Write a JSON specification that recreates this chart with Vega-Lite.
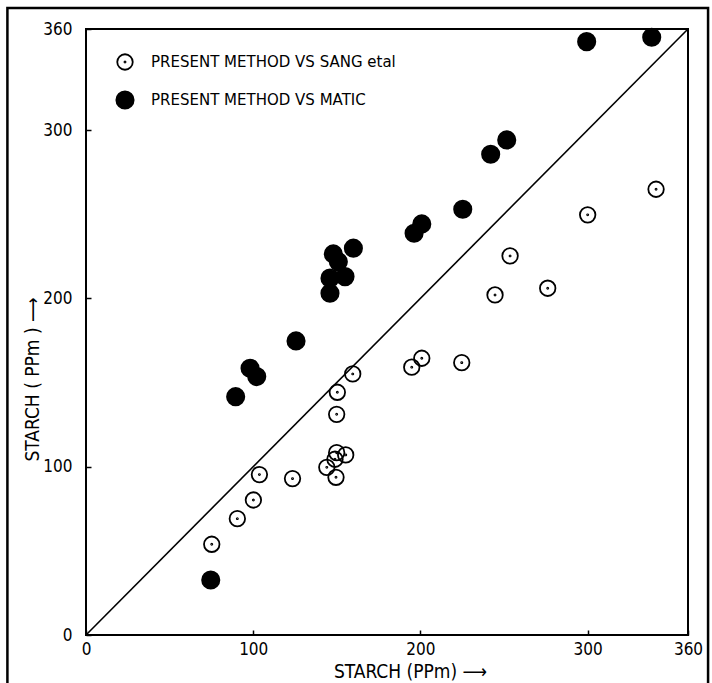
{
  "$schema": "https://vega.github.io/schema/vega-lite/v6.json",
  "width": 602,
  "height": 606,
  "autosize": {"type": "none"},
  "padding": {"left": 86, "top": 29, "right": 24, "bottom": 48},
  "background": "white",
  "config": {
    "view": {"stroke": "black", "strokeWidth": 2},
    "font": "DejaVu Sans Condensed",
    "axis": {
      "grid": false,
      "domain": false,
      "ticks": true,
      "tickSize": -5,
      "tickWidth": 1.5,
      "tickColor": "black",
      "labelColor": "black",
      "labelFont": "DejaVu Sans Condensed",
      "labelFontSize": 17,
      "labelFlush": false,
      "labelOverlap": false,
      "titleColor": "black",
      "titleFont": "DejaVu Sans Condensed",
      "titleFontSize": 19,
      "titleFontWeight": "normal"
    }
  },
  "layer": [
    {
      "data": {"values": [{"frame": "page"}]},
      "mark": {"type": "rect", "filled": false, "stroke": "black", "strokeWidth": 2.5, "clip": false},
      "encoding": {
        "x": {"datum": -47, "type": "quantitative"},
        "x2": {"datum": 372},
        "y": {"datum": 372.5, "type": "quantitative"},
        "y2": {"datum": -32}
      }
    },
    {
      "data": {"values": [{"x": 0, "y": 0}, {"x": 360, "y": 360}]},
      "mark": {"type": "line", "color": "black", "strokeWidth": 1.6},
      "encoding": {
        "x": {"field": "x", "type": "quantitative"},
        "y": {"field": "y", "type": "quantitative"}
      }
    },
    {
      "data": {"values": [
        {"series": "PRESENT METHOD VS SANG etal", "x": 75.2, "y": 53.9},
        {"series": "PRESENT METHOD VS SANG etal", "x": 90.5, "y": 69.1},
        {"series": "PRESENT METHOD VS SANG etal", "x": 100.1, "y": 80.2},
        {"series": "PRESENT METHOD VS SANG etal", "x": 103.7, "y": 95.3},
        {"series": "PRESENT METHOD VS SANG etal", "x": 123.5, "y": 92.9},
        {"series": "PRESENT METHOD VS SANG etal", "x": 144.0, "y": 99.6},
        {"series": "PRESENT METHOD VS SANG etal", "x": 148.9, "y": 104.4},
        {"series": "PRESENT METHOD VS SANG etal", "x": 149.9, "y": 108.3},
        {"series": "PRESENT METHOD VS SANG etal", "x": 155.3, "y": 107.0},
        {"series": "PRESENT METHOD VS SANG etal", "x": 149.5, "y": 93.7},
        {"series": "PRESENT METHOD VS SANG etal", "x": 149.9, "y": 131.1},
        {"series": "PRESENT METHOD VS SANG etal", "x": 150.3, "y": 144.2},
        {"series": "PRESENT METHOD VS SANG etal", "x": 159.5, "y": 155.1},
        {"series": "PRESENT METHOD VS SANG etal", "x": 194.8, "y": 159.1},
        {"series": "PRESENT METHOD VS SANG etal", "x": 200.8, "y": 164.4},
        {"series": "PRESENT METHOD VS SANG etal", "x": 224.7, "y": 161.8},
        {"series": "PRESENT METHOD VS SANG etal", "x": 244.6, "y": 202.0},
        {"series": "PRESENT METHOD VS SANG etal", "x": 253.6, "y": 225.2},
        {"series": "PRESENT METHOD VS SANG etal", "x": 276.1, "y": 206.0},
        {"series": "PRESENT METHOD VS SANG etal", "x": 300.0, "y": 249.6},
        {"series": "PRESENT METHOD VS SANG etal", "x": 340.9, "y": 264.8},
        {"series": "PRESENT METHOD VS MATIC", "x": 74.6, "y": 32.7},
        {"series": "PRESENT METHOD VS MATIC", "x": 89.5, "y": 141.6},
        {"series": "PRESENT METHOD VS MATIC", "x": 98.1, "y": 158.5},
        {"series": "PRESENT METHOD VS MATIC", "x": 102.1, "y": 153.5},
        {"series": "PRESENT METHOD VS MATIC", "x": 125.6, "y": 174.7},
        {"series": "PRESENT METHOD VS MATIC", "x": 145.9, "y": 203.0},
        {"series": "PRESENT METHOD VS MATIC", "x": 145.9, "y": 212.0},
        {"series": "PRESENT METHOD VS MATIC", "x": 154.9, "y": 212.9},
        {"series": "PRESENT METHOD VS MATIC", "x": 150.9, "y": 221.8},
        {"series": "PRESENT METHOD VS MATIC", "x": 147.9, "y": 226.4},
        {"series": "PRESENT METHOD VS MATIC", "x": 159.9, "y": 229.8},
        {"series": "PRESENT METHOD VS MATIC", "x": 196.2, "y": 238.7},
        {"series": "PRESENT METHOD VS MATIC", "x": 200.8, "y": 244.2},
        {"series": "PRESENT METHOD VS MATIC", "x": 225.3, "y": 252.9},
        {"series": "PRESENT METHOD VS MATIC", "x": 242.0, "y": 285.6},
        {"series": "PRESENT METHOD VS MATIC", "x": 251.6, "y": 294.1},
        {"series": "PRESENT METHOD VS MATIC", "x": 299.4, "y": 352.5},
        {"series": "PRESENT METHOD VS MATIC", "x": 338.3, "y": 355.1}
      ]},
      "mark": {"type": "point", "filled": true, "strokeWidth": 1.8, "opacity": 1},
      "encoding": {
        "x": {
          "field": "x", "type": "quantitative",
          "scale": {"domain": [0, 360], "nice": false, "zero": false},
          "axis": {
            "values": [0, 100, 200, 300, 360],
            "labelPadding": 11,
            "title": "STARCH (PPm) ⟶",
            "titleX": 324,
            "titleY": 36,
            "titleAlign": "center",
            "titleBaseline": "middle"
          }
        },
        "y": {
          "field": "y", "type": "quantitative",
          "scale": {"domain": [0, 360], "nice": false, "zero": false},
          "axis": {
            "values": [0, 100, 200, 300, 360],
            "labelPadding": 19,
            "labelBaseline": "middle",
            "title": "STARCH ( PPm ) ⟶",
            "titleX": -54,
            "titleY": 350,
            "titleAngle": -90,
            "titleAlign": "center",
            "titleBaseline": "middle"
          }
        },
        "shape": {
          "field": "series", "type": "nominal",
          "scale": {
            "domain": ["PRESENT METHOD VS SANG etal", "PRESENT METHOD VS MATIC"],
            "range": ["M-1,0A1,1 0 1,1 1,0A1,1 0 1,1 -1,0ZM-0.07,0A0.07,0.07 0 1,1 0.07,0A0.07,0.07 0 1,1 -0.07,0Z", "circle"]
          }
        },
        "fill": {
          "field": "series", "type": "nominal",
          "scale": {
            "domain": ["PRESENT METHOD VS SANG etal", "PRESENT METHOD VS MATIC"],
            "range": ["transparent", "black"]
          }
        },
        "stroke": {
          "field": "series", "type": "nominal",
          "scale": {
            "domain": ["PRESENT METHOD VS SANG etal", "PRESENT METHOD VS MATIC"],
            "range": ["black", "black"]
          }
        },
        "size": {
          "field": "series", "type": "nominal",
          "scale": {
            "domain": ["PRESENT METHOD VS SANG etal", "PRESENT METHOD VS MATIC"],
            "range": [240, 300]
          },
          "legend": {
            "orient": "none",
            "legendX": 29,
            "legendY": 24,
            "title": null,
            "padding": 0,
            "rowPadding": 13,
            "labelOffset": 16,
            "labelFont": "DejaVu Sans",
            "labelFontSize": 15,
            "labelColor": "black",
            "labelLimit": 400,
            "symbolStrokeWidth": 1.8,
            "symbolOpacity": 1
          }
        }
      }
    }
  ]
}
